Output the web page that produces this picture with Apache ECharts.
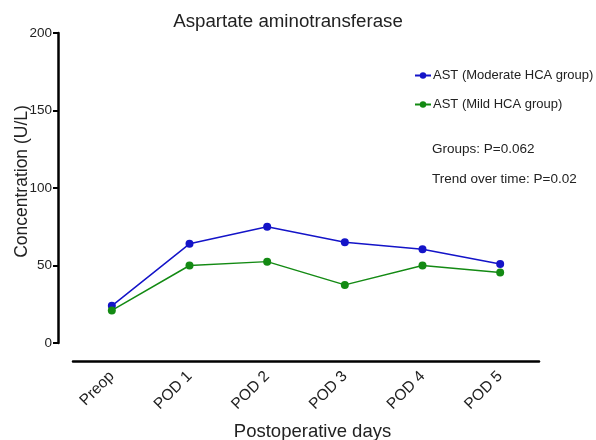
<!DOCTYPE html>
<html><head><meta charset="utf-8">
<script src="https://cdn.jsdelivr.net/npm/echarts@6/dist/echarts.min.js"></script>
<style>html,body{margin:0;padding:0;background:#fff}#c{width:596px;height:440px}</style>
</head><body><div id="c"></div>
<script>
var categories = ['Preop', 'POD 1', 'POD 2', 'POD 3', 'POD 4', 'POD 5'];
var moderate = [24, 64, 75, 65, 60.5, 51];
var mild = [21, 50, 52.5, 37.5, 50, 45.5];
var yTicks = [0, 50, 100, 150, 200];
var F = '"Liberation Sans", Arial, sans-serif';
var chart = echarts.init(document.getElementById('c'));
chart.setOption({
  animation: false,
  backgroundColor: '#fff',
  title: {text: 'Aspartate aminotransferase', left: 283, top: 7, textAlign: 'center',
    textStyle: {fontFamily: F, fontSize: 18.7, fontWeight: 'normal', color: '#222'}},
  legend: {orient: 'vertical', left: 409, top: 64, itemGap: 16, itemWidth: 16, itemHeight: 8,
    textStyle: {fontFamily: F, fontSize: 13, color: '#222', padding: [0, 0, 0, -3]},
    data: ['AST (Moderate HCA group)', 'AST (Mild HCA group)']},
  graphic: [
    {type: 'text', left: 432, top: 142, style: {text: 'Groups: P=0.062', font: '13.5px ' + F, fill: '#222'}},
    {type: 'text', left: 432, top: 172, style: {text: 'Trend over time: P=0.02', font: '13.5px ' + F, fill: '#222'}}
  ],
  grid: {left: 73, top: 33, width: 466, height: 310, containLabel: false, outerBoundsMode: 'none'},
  xAxis: {type: 'category', data: categories, boundaryGap: true, offset: 18,
    name: 'Postoperative days', nameLocation: 'middle', nameGap: 61, nameMoveOverlap: false,
    nameTextStyle: {fontFamily: F, fontSize: 18.5, color: '#222', padding: [0, 0, 0, 13]},
    axisLine: {onZero: false, lineStyle: {color: '#000', width: 2.5}},
    axisTick: {alignWithLabel: true, length: 5, lineStyle: {color: '#000', width: 2}},
    axisLabel: {rotate: 45, fontFamily: F, fontSize: 15.5, color: '#222', margin: 13}},
  yAxis: {type: 'value', min: 0, max: 200, interval: 50, offset: 15,
    name: 'Concentration (U/L)', nameLocation: 'middle', nameGap: 27, nameMoveOverlap: false,
    nameTextStyle: {fontFamily: F, fontSize: 17.5, color: '#222', padding: [0, 0, 0, 13]},
    axisLine: {show: true, onZero: false, lineStyle: {color: '#000', width: 2.5}},
    axisTick: {show: true, length: 5, lineStyle: {color: '#000', width: 2}},
    splitLine: {show: false},
    axisLabel: {fontFamily: F, fontSize: 13.5, color: '#222', margin: 6,
      formatter: function (v) { return yTicks.indexOf(v) >= 0 ? String(v) : ''; }}},
  series: [
    {name: 'AST (Moderate HCA group)', type: 'line', data: moderate, symbol: 'circle', symbolSize: 8,
      itemStyle: {color: '#1414c8'}, lineStyle: {color: '#1414c8', width: 1.5}},
    {name: 'AST (Mild HCA group)', type: 'line', data: mild, symbol: 'circle', symbolSize: 8,
      itemStyle: {color: '#138a13'}, lineStyle: {color: '#138a13', width: 1.5}}
  ]
});
</script></body></html>
